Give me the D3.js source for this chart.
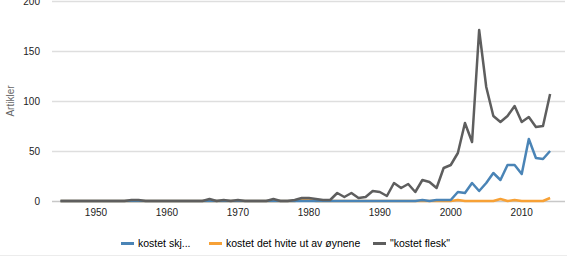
<!DOCTYPE html>
<html>
<head>
<meta charset="utf-8">
<script src="https://cdn.jsdelivr.net/npm/d3@7"></script>
<style>
  body { margin: 0; background: #fff; }
  text { font-family: "Liberation Sans", Arial, sans-serif; }
</style>
</head>
<body>
<div id="chart"></div>
<script>
// Data
var years = d3.range(1945, 2015);

var skj = [
  0, 0, 0, 0, 0, 0, 0, 0, 0, 0,   // 1945-1954
  0, 0, 0, 0, 0, 0, 0, 0, 0, 0,   // 1955-1964
  0, 0, 0, 0, 0, 0, 0, 0, 0, 0,   // 1965-1974
  0, 0, 0, 0, 0, 0, 0, 0, 0, 0,   // 1975-1984
  0, 0, 0, 0, 0, 0, 0, 0, 0, 0,   // 1985-1994
  0, 1, 0, 1, 1, 1, 9, 8, 18, 10, // 1995-2004
  18, 28, 21, 36, 36, 27, 62, 43, 42, 50 // 2005-2014
];

var hvite = [
  0, 0, 0, 0, 0, 0, 0, 0, 0, 0,
  0, 0, 0, 0, 0, 0, 0, 0, 0, 0,
  0, 0, 0, 0, 0, 0, 0, 0, 0, 0,
  0, 0, 0, 0, 1, 1, 0, 0, 0, 0,
  0, 0, 0, 0, 0, 0, 0, 0, 0, 0,
  0, 0, 0, 0, 0, 0, 1, 0, 0, 0,
  0, 0, 2, 0, 1, 0, 0, 0, 0, 3
];

var flesk = [
  0, 0, 0, 0, 0, 0, 0, 0, 0, 0,
  1, 1, 0, 0, 0, 0, 0, 0, 0, 0,
  0, 2, 0, 1, 0, 1, 0, 0, 0, 0,
  2, 0, 0, 1, 3, 3, 2, 1, 1, 8,
  4, 8, 3, 4, 10, 9, 5, 18, 13, 17,
  9, 21, 19, 13, 33, 36, 48, 78, 59, 171,
  114, 85, 79, 85, 95, 79, 84, 74, 75, 107
];

var seriesNames = ["kostet skj...", "kostet det hvite ut av øynene", "\"kostet flesk\""];
var seriesColors = ["#4a84b6", "#f7a136", "#5e5e5e"];
var yTicks = [0, 50, 100, 150, 200];
var xTicks = [1950, 1960, 1970, 1980, 1990, 2000, 2010];

var svgWidth = 567;
var svgHeight = 258;

var svg = d3.select("#chart")
  .append("svg")
  .attr("width", svgWidth)
  .attr("height", svgHeight);

// Scales
var x = d3.scaleLinear()
  .domain([1943.8, 2016.1])
  .range([52, 565]);

var y = d3.scaleLinear()
  .domain([0, 200])
  .range([201, 1]);

// Gridlines
svg.append("g")
  .selectAll("line")
  .data(yTicks)
  .enter()
  .append("line")
  .attr("x1", 52)
  .attr("x2", 565)
  .attr("y1", d => Math.round(y(d)) + 0.5)
  .attr("y2", d => Math.round(y(d)) + 0.5)
  .attr("stroke", d => d === 0 ? "#c8c8c8" : "#dedede")
  .attr("stroke-width", 1.5);

// Y tick labels
svg.append("g")
  .selectAll("text")
  .data(yTicks)
  .enter()
  .append("text")
  .attr("x", 40)
  .attr("y", d => y(d))
  .attr("dy", "0.35em")
  .attr("text-anchor", "end")
  .attr("font-size", "10px")
  .attr("fill", "#222")
  .text(d => d);

// X tick labels
svg.append("g")
  .selectAll("text")
  .data(xTicks)
  .enter()
  .append("text")
  .attr("x", d => x(d))
  .attr("y", 216)
  .attr("text-anchor", "middle")
  .attr("font-size", "10px")
  .attr("fill", "#222")
  .text(d => d);

// Y axis title
svg.append("text")
  .attr("transform", "translate(14, 101) rotate(-90)")
  .attr("text-anchor", "middle")
  .attr("font-size", "10px")
  .attr("fill", "#666")
  .text("Artikler");

// Lines
var line = d3.line()
  .x((d, i) => x(years[i]))
  .y(d => y(d));

[hvite, skj, flesk].forEach(function(values, k) {
  var idx = [1, 0, 2][k];
  svg.append("path")
    .datum(values)
    .attr("d", line)
    .attr("fill", "none")
    .attr("stroke", seriesColors[idx])
    .attr("stroke-width", 2.5)
    .attr("stroke-linejoin", "round");
});

// Legend
var legendX = [121, 209, 373];
var legend = svg.append("g");
seriesNames.forEach(function(name, i) {
  legend.append("line")
    .attr("x1", legendX[i])
    .attr("x2", legendX[i] + 13)
    .attr("y1", 243.5)
    .attr("y2", 243.5)
    .attr("stroke", seriesColors[i])
    .attr("stroke-width", 3);
  legend.append("text")
    .attr("x", legendX[i] + 17)
    .attr("y", 243)
    .attr("dy", "0.35em")
    .attr("font-size", "10.5px")
    .attr("fill", "#000")
    .text(name);
});

// Bottom border
svg.append("line")
  .attr("x1", 0)
  .attr("x2", svgWidth)
  .attr("y1", 255.5)
  .attr("y2", 255.5)
  .attr("stroke", "#ececec")
  .attr("stroke-width", 1);
</script>
</body>
</html>
